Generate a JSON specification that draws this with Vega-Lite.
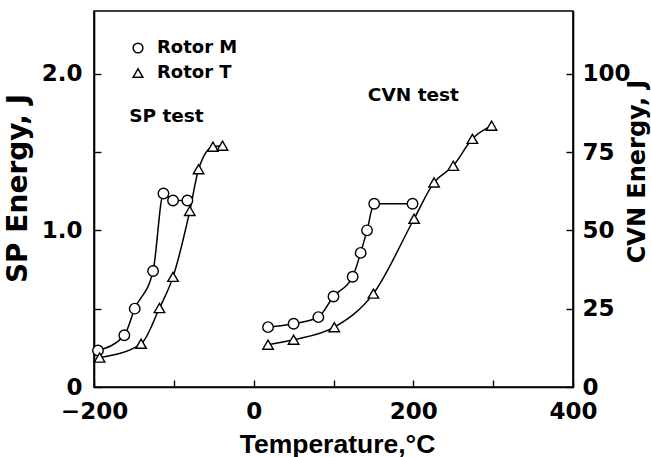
{
  "$schema": "https://vega.github.io/schema/vega-lite/v6.json",
  "autosize": {"type": "none"},
  "padding": {"left": 94, "top": 11, "right": 78, "bottom": 70},
  "width": 479,
  "height": 376,
  "background": "white",
  "config": {
    "view": {"stroke": "black", "strokeWidth": 1.6},
    "axis": {
      "domainColor": "black", "domainWidth": 1.6, "tickColor": "black", "tickWidth": 1.4,
      "tickSize": -7, "labelColor": "black", "labelFont": "DejaVu Sans", "labelFontWeight": "bold",
      "labelFontSize": 23, "titleColor": "black", "grid": false
    }
  },
  "encoding": {
    "x": {"field": "temp", "type": "quantitative",
      "scale": {"domain": [-200, 400], "nice": false, "zero": false},
      "axis": {"values": [-200, -100, 0, 100, 200, 300, 400],
        "labelExpr": "datum.value % 200 == 0 ? datum.label : ''",
        "labelPadding": 20, "labelFlush": false,
        "title": "Temperature,°C", "titleFont": "Liberation Sans", "titleFontWeight": "bold",
        "titleFontSize": 26.5, "titleX": 243, "titleY": 65, "titleBaseline": "alphabetic", "titleAlign": "center"}}
  },
  "layer": [
    {
      "data": {"values": [
        {"rotor": "Rotor M", "temp": -195, "sp": 0.233},
        {"rotor": "Rotor M", "temp": -162, "sp": 0.33},
        {"rotor": "Rotor M", "temp": -149, "sp": 0.5},
        {"rotor": "Rotor M", "temp": -126, "sp": 0.74},
        {"rotor": "Rotor M", "temp": -113, "sp": 1.235},
        {"rotor": "Rotor M", "temp": -101, "sp": 1.19},
        {"rotor": "Rotor M", "temp": -83, "sp": 1.19},
        {"rotor": "Rotor T", "temp": -193, "sp": 0.188},
        {"rotor": "Rotor T", "temp": -141, "sp": 0.276},
        {"rotor": "Rotor T", "temp": -118, "sp": 0.504},
        {"rotor": "Rotor T", "temp": -101, "sp": 0.703},
        {"rotor": "Rotor T", "temp": -80, "sp": 1.124},
        {"rotor": "Rotor T", "temp": -69, "sp": 1.39},
        {"rotor": "Rotor T", "temp": -51, "sp": 1.534},
        {"rotor": "Rotor T", "temp": -39, "sp": 1.54}
      ]},
      "encoding": {
        "y": {"field": "sp", "type": "quantitative",
          "scale": {"domain": [0, 2.4], "nice": false},
          "axis": {"orient": "left", "values": [0, 0.5, 1, 1.5, 2],
            "labelExpr": "datum.value == 0 ? '0' : (datum.value % 1 == 0 ? format(datum.value, '.1f') : '')",
            "labelPadding": 19,
            "title": "SP Energy, J", "titleFont": "DejaVu Sans", "titleFontWeight": "bold", "titleFontSize": 28,
            "titleAngle": 270, "titleX": -76, "titleY": 177, "titleBaseline": "middle", "titleAlign": "center"}}
      },
      "layer": [
        {"mark": {"type": "line", "color": "black", "strokeWidth": 1.5, "interpolate": "monotone"},
         "encoding": {"detail": {"field": "rotor"}}},
        {"mark": {"type": "point", "filled": true, "fill": "white", "stroke": "black", "strokeWidth": 1.4, "size": 110, "opacity": 1},
         "encoding": {"shape": {"field": "rotor", "type": "nominal",
           "scale": {"domain": ["Rotor M", "Rotor T"], "range": ["circle", "triangle-up"]},
           "legend": {"title": null, "orient": "none", "legendX": 35, "legendY": 28,
             "labelFont": "DejaVu Sans", "labelFontWeight": "bold", "labelFontSize": 18, "labelColor": "black",
             "symbolSize": 95, "rowPadding": 7, "labelOffset": 10, "padding": 0,
             "encode": {"symbols": {"update": {"fill": {"value": "white"}, "stroke": {"value": "black"}, "strokeWidth": {"value": 1.4}, "opacity": {"value": 1}}}}}}}},
        {"data": {"values": [
            {"label": "SP test", "temp": -156, "sp": 1.73},
            {"label": "CVN test", "temp": 143, "sp": 1.865}
          ]},
         "mark": {"type": "text", "align": "left", "baseline": "middle", "font": "DejaVu Sans", "fontWeight": "bold", "fontSize": 18.5, "color": "black"},
         "encoding": {"text": {"field": "label"}}}
      ]
    },
    {
      "data": {"values": [
        {"rotor": "Rotor M", "temp": 18, "cvn": 19.1},
        {"rotor": "Rotor M", "temp": 50, "cvn": 20.2},
        {"rotor": "Rotor M", "temp": 81, "cvn": 22.3},
        {"rotor": "Rotor M", "temp": 100, "cvn": 28.9},
        {"rotor": "Rotor M", "temp": 124, "cvn": 35.2},
        {"rotor": "Rotor M", "temp": 134, "cvn": 42.8},
        {"rotor": "Rotor M", "temp": 142, "cvn": 50},
        {"rotor": "Rotor M", "temp": 151, "cvn": 58.5},
        {"rotor": "Rotor M", "temp": 199, "cvn": 58.5},
        {"rotor": "Rotor T", "temp": 18, "cvn": 13.5},
        {"rotor": "Rotor T", "temp": 50, "cvn": 15.1},
        {"rotor": "Rotor T", "temp": 101, "cvn": 19.1},
        {"rotor": "Rotor T", "temp": 150, "cvn": 29.8},
        {"rotor": "Rotor T", "temp": 201, "cvn": 53.7},
        {"rotor": "Rotor T", "temp": 226, "cvn": 65.3},
        {"rotor": "Rotor T", "temp": 250, "cvn": 70.6},
        {"rotor": "Rotor T", "temp": 274, "cvn": 79.2},
        {"rotor": "Rotor T", "temp": 298, "cvn": 83.4}
      ]},
      "encoding": {
        "y": {"field": "cvn", "type": "quantitative",
          "scale": {"domain": [0, 120], "nice": false},
          "axis": {"orient": "right", "values": [0, 25, 50, 75, 100], "labelPadding": 16,
            "title": "CVN Energy, J", "titleFont": "DejaVu Sans", "titleFontWeight": "bold", "titleFontSize": 24,
            "titleAngle": 270, "titleX": 64, "titleY": 160, "titleBaseline": "middle", "titleAlign": "center"}}
      },
      "layer": [
        {"mark": {"type": "line", "color": "black", "strokeWidth": 1.5, "interpolate": "monotone"},
         "encoding": {"detail": {"field": "rotor"}}},
        {"mark": {"type": "point", "filled": true, "fill": "white", "stroke": "black", "strokeWidth": 1.4, "size": 110, "opacity": 1},
         "encoding": {"shape": {"field": "rotor", "type": "nominal"}}}
      ]
    }
  ],
  "resolve": {"scale": {"y": "independent"}}
}
